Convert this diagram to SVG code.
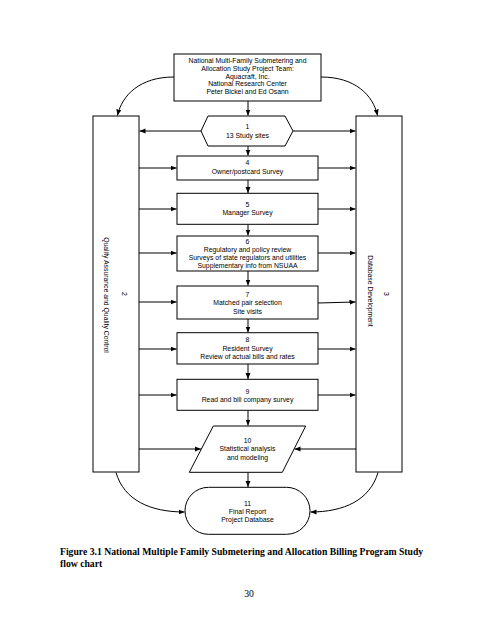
<svg xmlns="http://www.w3.org/2000/svg" width="495" height="640" viewBox="0 0 495 640">
<style>
.box{fill:#fff;stroke:#000;stroke-width:1}
.t{font-family:"Liberation Sans",Arial,sans-serif;font-size:6.85px;fill:#000;text-anchor:middle}
.c{fill:none;stroke:#000;stroke-width:1;marker-end:url(#ah)}
.cap{font-family:"Liberation Serif","Times New Roman",serif;font-size:9.7px;fill:#000}
</style>
<defs>
<marker id="ah" markerUnits="userSpaceOnUse" markerWidth="7" markerHeight="6" refX="6" refY="3" orient="auto">
<path d="M0,0.5 L6,3 L0,5.5 Z" fill="#000"/>
</marker>
</defs>
<rect width="495" height="640" fill="#fff"/>

<g id="connectors">
<path class="c" d="M174,77 C140,77 122,95 117.5,115.5"/>
<path class="c" d="M321,77 C355,77 373,95 377.5,115.5"/>
<path class="c" d="M116,472.5 C124,500 150,512 184.5,512"/>
<path class="c" d="M378,472.5 C370,500 344,512 310.5,512"/>
<path class="c" d="M248,101 V115.5"/>
<path class="c" d="M248,146 V155.5"/>
<path class="c" d="M248,180 V193"/>
<path class="c" d="M248,224.3 V235.5"/>
<path class="c" d="M248,271 V285.5"/>
<path class="c" d="M248,319 V332.5"/>
<path class="c" d="M248,364 V379"/>
<path class="c" d="M248,410.3 V425.5"/>
<path class="c" d="M248,472.3 V487"/>
<path class="c" d="M201,131 H139.5"/>
<path class="c" d="M293,131 H355.5"/>
<path class="c" d="M139,168 H176.5"/>
<path class="c" d="M318,168 H355.5"/>
<path class="c" d="M139,209 H176.5"/>
<path class="c" d="M318,209 H355.5"/>
<path class="c" d="M139,253 H176.5"/>
<path class="c" d="M318,253 H355.5"/>
<path class="c" d="M139,302 H176.5"/>
<path class="c" d="M318,303 L355.5,302"/>
<path class="c" d="M139,349 H176.5"/>
<path class="c" d="M318,349 H355.5"/>
<path class="c" d="M139,395 H176.5"/>
<path class="c" d="M318,395 H355.5"/>
<path class="c" d="M139,449 H201"/>
<path class="c" d="M356,449 H294.5"/>
</g>

<g id="node-top">
<rect class="box" x="174" y="54" width="147" height="47"/>
<text class="t" x="247.5" y="63.2">National Multi-Family Submetering and</text>
<text class="t" x="247.5" y="70.9">Allocation Study Project Team:</text>
<text class="t" x="247.5" y="78.6">Aquacraft, Inc.</text>
<text class="t" x="247.5" y="86.3">National Research Center</text>
<text class="t" x="247.5" y="94">Peter Bickel and Ed Osann</text>
</g>

<g id="node-1">
<polygon class="box" points="201,131 208,116 285,116 293,131 285,146 208,146"/>
<text class="t" x="247.5" y="129.2">1</text>
<text class="t" x="247.5" y="137.8">13 Study sites</text>
</g>

<g id="node-2">
<rect class="box" x="93" y="116" width="46" height="356"/>
<text class="t" transform="translate(121.8,294) rotate(90)">2</text>
<text class="t" transform="translate(104.2,295) rotate(90)">Quality Assurance and Quality Control</text>
</g>

<g id="node-3">
<rect class="box" x="356" y="116" width="46" height="356"/>
<text class="t" transform="translate(384.2,294) rotate(90)">3</text>
<text class="t" transform="translate(368.2,291) rotate(90)">Database Development</text>
</g>

<g id="node-4">
<rect class="box" x="177" y="156" width="141" height="24"/>
<text class="t" x="247.5" y="164.8">4</text>
<text class="t" x="247.5" y="174">Owner/postcard Survey</text>
</g>

<g id="node-5">
<rect class="box" x="177" y="193.3" width="141" height="31"/>
<text class="t" x="247.5" y="206.8">5</text>
<text class="t" x="247.5" y="215.2">Manager Survey</text>
</g>

<g id="node-6">
<rect class="box" x="177" y="236" width="141" height="35"/>
<text class="t" x="247.5" y="243.5">6</text>
<text class="t" x="247.5" y="251.8">Regulatory and policy review</text>
<text class="t" x="247.5" y="259.8">Surveys of state regulators and utilities</text>
<text class="t" x="247.5" y="268.2">Supplementary info from NSUAA</text>
</g>

<g id="node-7">
<rect class="box" x="177" y="286" width="141" height="33"/>
<text class="t" x="247.5" y="296.5">7</text>
<text class="t" x="247.5" y="305.3">Matched pair selection</text>
<text class="t" x="247.5" y="313.5">Site visits</text>
</g>

<g id="node-8">
<rect class="box" x="177" y="332.7" width="141" height="31.3"/>
<text class="t" x="247.5" y="341.8">8</text>
<text class="t" x="247.5" y="350.8">Resident Survey</text>
<text class="t" x="247.5" y="359.2">Review of actual bills and rates</text>
</g>

<g id="node-9">
<rect class="box" x="177" y="379.3" width="141" height="31"/>
<text class="t" x="247.5" y="393.5">9</text>
<text class="t" x="247.5" y="401.8">Read and bill company survey</text>
</g>

<g id="node-10">
<polygon class="box" points="213.3,426 305.7,426 282.3,472.3 189.3,472.3"/>
<text class="t" x="247.5" y="442.5">10</text>
<text class="t" x="247.5" y="451.2">Statistical analysis</text>
<text class="t" x="247.5" y="459.5">and modeling</text>
</g>

<g id="node-11">
<rect class="box" x="185" y="487.3" width="125" height="47" rx="23.5" ry="23.5"/>
<text class="t" x="247.5" y="505.8">11</text>
<text class="t" x="247.5" y="514.2">Final Report</text>
<text class="t" x="247.5" y="522.2">Project Database</text>
</g>

<text class="cap" x="60" y="555" font-weight="bold">Figure 3.1 National Multiple Family Submetering and Allocation Billing Program Study</text>
<text class="cap" x="60" y="566.5" font-weight="bold">flow chart</text>
<text class="cap" x="249" y="596.5" text-anchor="middle">30</text>
</svg>
